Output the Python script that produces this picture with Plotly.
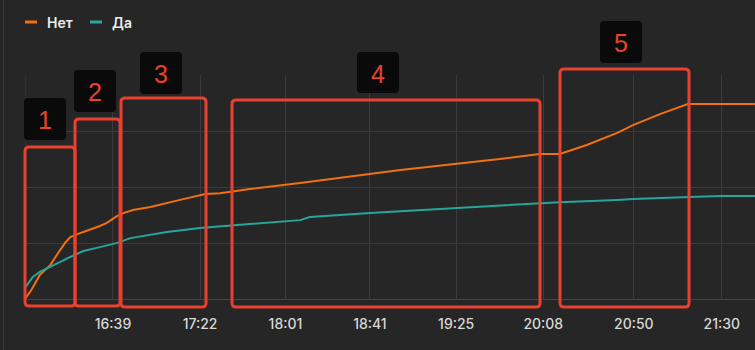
import plotly.graph_objects as go

# ---- data ----
x_net = [0.0, 0.8, 1.7, 2.9, 3.8, 4.6, 5.2, 6.0, 6.7, 8.6, 9.4, 10.6, 11.3, 12.4, 14.4, 17.8,
         20.7, 22.4, 25.8, 31.6, 43.1, 54.5, 59.1, 61.4, 64.5, 68.0, 69.8, 72.9, 76.1, 83.8]
y_net = [0.4, 3.9, 8.9, 12.4, 16.7, 20.3, 22.4, 23.5, 24.2, 26.3, 27.4, 29.9, 30.9, 32.0, 33.1, 35.6,
         37.7, 38.0, 39.5, 41.6, 46.2, 50.1, 51.9, 51.9, 55.1, 59.4, 62.2, 66.1, 69.7, 69.7]

x_da = [0.0, 0.9, 1.7, 2.9, 4.0, 5.2, 6.7, 8.6, 10.6, 12.1, 14.4, 16.3, 20.1, 23.9, 25.8, 31.6,
        32.7, 39.6, 49.5, 54.5, 59.1, 61.4, 68.0, 69.8, 76.3, 79.8, 83.8]
y_da = [4.3, 8.2, 10.0, 11.7, 13.5, 15.3, 17.4, 18.8, 20.3, 22.0, 23.1, 24.2, 25.6, 26.7, 27.0, 28.4,
        29.5, 30.9, 32.7, 33.8, 34.5, 34.8, 35.6, 35.9, 36.6, 37.0, 37.0]

tick_vals = [10.1, 20.1, 29.9, 39.6, 49.5, 59.5, 69.9, 80.0]
tick_text = ["16:39", "17:22", "18:01", "18:41", "19:25", "20:08", "20:50", "21:30"]

series_names = ["Нет", "Да"]
series_colors = ["#f2700f", "#26a69a"]

# callout boxes (pixel-space annotation overlays)
callout_labels = ["1", "2", "3", "4", "5"]

W, H = 755, 350
L, R, T, B = 25, 0, 75, 50
PW, PH = W - L - R, H - T - B

BG = "#262626"
RED = "#e8412f"
GRID = "#3b3b3b"


def px(xp):
    return (xp - L) / PW


def py(yp):
    return (H - B - yp) / PH


def rounded(x0, y0, x1, y1, r):
    X0, X1 = px(x0), px(x1)
    Y0, Y1 = py(y0), py(y1)
    rx, ry = r / PW, r / PH
    return (f"M {X0+rx},{Y0} L {X1-rx},{Y0} Q {X1},{Y0} {X1},{Y0-ry} "
            f"L {X1},{Y1+ry} Q {X1},{Y1} {X1-rx},{Y1} "
            f"L {X0+rx},{Y1} Q {X0},{Y1} {X0},{Y1+ry} "
            f"L {X0},{Y0-ry} Q {X0},{Y0} {X0+rx},{Y0} Z")


fig = go.Figure()
fig.add_trace(go.Scatter(x=x_net, y=y_net, mode="lines", name=series_names[0],
                         line=dict(color=series_colors[0], width=2), showlegend=False))
fig.add_trace(go.Scatter(x=x_da, y=y_da, mode="lines", name=series_names[1],
                         line=dict(color=series_colors[1], width=2), showlegend=False))

rects = [(25, 147, 75, 306), (75, 119, 120, 306), (121, 98, 206, 307),
         (232, 100, 540, 307), (560, 69, 689, 307)]
boxes = [(24, 98, 66, 140), (74, 70, 116, 112), (140, 52, 182, 94),
         (357, 52, 399, 93), (600, 21, 642, 63)]

shapes = []
annotations = []
# left panel border line
shapes.append(dict(type="line", xref="paper", yref="paper", x0=px(3.5), x1=px(3.5),
                   y0=py(0), y1=py(350), line=dict(color="#3a3a3a", width=1), layer="below"))

# custom legend
leg_x = [25, 90]
for lx, name, col in zip(leg_x, series_names, series_colors):
    shapes.append(dict(type="line", xref="paper", yref="paper", x0=px(lx), x1=px(lx + 12),
                       y0=py(22), y1=py(22), line=dict(color=col, width=3)))
    annotations.append(dict(xref="paper", yref="paper", x=px(lx + 20), y=py(22), text=name,
                            showarrow=False, xanchor="left", yanchor="middle",
                            font=dict(family="Inter, Roboto, sans-serif", size=14, color="#ececec",
                                      weight=600)))

for (a, b, c, d) in rects:
    shapes.append(dict(type="path", xref="paper", yref="paper", path=rounded(a, b, c, d, 4),
                       line=dict(color=RED, width=3), fillcolor="rgba(0,0,0,0)", layer="above"))
for (a, b, c, d), lab in zip(boxes, callout_labels):
    shapes.append(dict(type="path", xref="paper", yref="paper", path=rounded(a, b, c, d, 4),
                       line=dict(width=0), fillcolor="#0a0a0a", layer="above"))
    annotations.append(dict(xref="paper", yref="paper", x=px((a + c) / 2), y=py((b + d) / 2 + 1),
                            text=lab, showarrow=False, xanchor="center", yanchor="middle",
                            font=dict(family="Liberation Sans, Arial", size=25, color=RED)))

fig.update_layout(
    width=W, height=H,
    margin=dict(l=L, r=R, t=T, b=B),
    paper_bgcolor=BG, plot_bgcolor=BG,
    showlegend=False,
    xaxis=dict(range=[0, PW / 8.71], tickvals=tick_vals, ticktext=tick_text,
               showgrid=True, gridcolor=GRID, gridwidth=1, zeroline=False,
               showline=False, ticks="", ticklabelstandoff=14,
               tickfont=dict(family="Inter, Roboto, sans-serif", size=14, color="#d8d8d8", weight=500),
               fixedrange=True),
    yaxis=dict(range=[0, 80], tickvals=[0, 20, 40, 60, 80], showticklabels=False,
               showgrid=True, gridcolor=GRID, gridwidth=1, zeroline=False, showline=False,
               fixedrange=True),
    shapes=shapes,
    annotations=annotations,
)
fig.add_vline(x=0, line=dict(color=GRID, width=1), layer="below")
fig.add_hline(y=0, line=dict(color="#454545", width=2), layer="below")

fig.write_html("out.html")
